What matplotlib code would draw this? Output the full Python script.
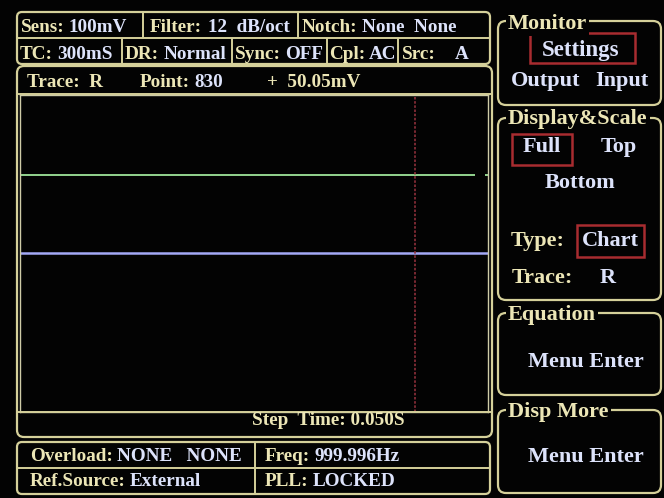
import matplotlib
matplotlib.use("Agg")
import matplotlib.pyplot as plt
from matplotlib.patches import FancyBboxPatch, Rectangle

# ---------------- data ----------------
x_range = [0, 983]            # chart points shown across the screen
y_range = [0.0, 100.0]        # mV, full scale = Sens
blue_level = 50.05            # trace R (mV)
green_level = 74.8            # second trace level (mV)
green_segments = [[0, 956], [977, 983]]
cursor_point = 830

status_row1 = [("Sens:", "100mV"), ("Filter:", "12  dB/oct"), ("Notch:", "None  None")]
status_row2 = [("TC:", "300mS"), ("DR:", "Normal"), ("Sync:", "OFF"), ("Cpl:", "AC"), ("Src:", "A")]
trace_header = [("Trace:  R", ""), ("Point:", "830"), ("+  50.05mV", "")]
step_time = "Step  Time: 0.050S"
bottom_row1 = [("Overload:", "NONE   NONE"), ("Freq:", "999.996Hz")]
bottom_row2 = [("Ref.Source:", "External"), ("PLL:", "LOCKED")]

# ---------------- style ----------------
BG = "#030303"
CREAM = "#ece6b6"
VAL = "#dde3fb"
BORDER = "#d5d09a"
RED = "#a82c30"
FONT = "Liberation Serif"
LS = 13.8   # left panel text size
RS = 16     # right panel text size

W, H = 664, 498
fig = plt.figure(figsize=(W / 100, H / 100), dpi=100, facecolor=BG)

# chart axes (pixel rect 20..488 x 95..412)
px0, px1, py0, py1 = 20, 488, 95, 412
ax = fig.add_axes([px0 / W, 1 - py1 / H, (px1 - px0) / W, (py1 - py0) / H], zorder=1)
ax.set_facecolor(BG)
ax.set_xlim(*x_range)
ax.set_ylim(*y_range)
ax.set_xticks([])
ax.set_yticks([])
for s in ax.spines.values():
    s.set_color("#cfcca8")
    s.set_linewidth(1.0)
for seg in green_segments:
    ax.plot(seg, [green_level, green_level], color="#93d48f", lw=1.4, solid_capstyle="butt")
ax.plot(x_range, [blue_level, blue_level], color="#a4a9f6", lw=1.8, solid_capstyle="butt")
ax.axvline(cursor_point, color="#8e2f3a", lw=1.2, ls=(0, (1.5, 1.0)))

# UI overlay in pixel coordinates
ui = fig.add_axes([0, 0, 1, 1], zorder=2)
ui.set_xlim(0, W)
ui.set_ylim(H, 0)
ui.axis("off")
ui.patch.set_alpha(0)
renderer = fig.canvas.get_renderer()


def rbox(x0, y0, x1, y1, r=6, lw=1.6, color=BORDER):
    ui.add_patch(FancyBboxPatch((x0, y0), x1 - x0, y1 - y0,
                                boxstyle=f"round,pad=0,rounding_size={r}",
                                fill=False, ec=color, lw=lw))


def line(xs, ys, lw=1.4, color=BORDER):
    ui.plot(xs, ys, color=color, lw=lw, solid_capstyle="butt")


def txt(x, y, s, color=CREAM, size=LS, **kw):
    return ui.text(x, y, s, color=color, fontsize=size, family=FONT, weight="bold",
                   va="baseline", ha=kw.pop("ha", "left"), **kw)


def pair(lx, vx, y, lab, val, size=LS):
    """label in cream followed by value in pale blue, never overlapping"""
    t = txt(lx, y, lab, size=size)
    right = t.get_window_extent(renderer).x1  # display px, same as ui x units
    txt(max(vx, right + 4), y, val, color=VAL, size=size)


def redbox(x0, y0, x1, y1):
    ui.add_patch(Rectangle((x0, y0), x1 - x0, y1 - y0, fill=False, ec=RED, lw=1.8))


# ---- top status box ----
rbox(17, 12, 490, 64, r=5)
line([17, 490], [38, 38])
for xv in (143, 298):
    line([xv, xv], [12, 38])
for xv in (122, 232, 327, 398):
    line([xv, xv], [38, 64])

r1_lx = [21, 150, 302]
r1_vx = [67, 208, 358]
for (lab, val), lx, vx in zip(status_row1, r1_lx, r1_vx):
    pair(lx, vx, 32, lab, val)
r2_lx = [20, 125, 235, 329, 402]
r2_vx = [48, 157, 279, 364, 455]
for (lab, val), lx, vx in zip(status_row2, r2_lx, r2_vx):
    pair(lx, vx, 59, lab, val)

# ---- trace box ----
rbox(17, 66, 492, 437, r=7)
line([17, 492], [94, 94])
line([17, 492], [412, 412])
txt(27, 87, trace_header[0][0])
pair(140, 185, 87, trace_header[1][0], trace_header[1][1])
txt(267, 87, trace_header[2][0])
txt(252, 425, step_time)

# ---- bottom info box ----
rbox(17, 442, 490, 494, r=5)
line([17, 490], [468, 468])
line([255, 255], [442, 494])
b_lx = [30, 265]
b1_vx = [115, 310]
b2_vx = [130, 310]
for (lab, val), lx, vx in zip(bottom_row1, b_lx, b1_vx):
    pair(lx, vx, 461, lab, val)
for (lab, val), lx, vx in zip(bottom_row2, b_lx, b2_vx):
    pair(lx, vx, 486, lab, val)

# ---- right panels ----
panels = [("Monitor", 21, 105, 29), ("Display&Scale", 118, 300, 124),
          ("Equation", 313, 395, 320), ("Disp More", 410, 493, 417)]
for title, y0, y1, base in panels:
    rbox(498, y0, 661, y1, r=8)
    ui.text(508, base, title, color=CREAM, fontsize=RS, family=FONT, weight="bold",
            va="baseline", ha="left",
            bbox=dict(facecolor=BG, edgecolor="none", pad=1.5))

redbox(530, 33, 635, 63)
txt(581, 56, "Settings", color=VAL, size=RS + 0.5, ha="center")
txt(511, 86, "Output", color=VAL, size=RS)
txt(595, 86, "Input", color=VAL, size=RS)

redbox(512, 134, 572, 165)
txt(542, 152, "Full", color=VAL, size=RS, ha="center")
txt(601, 152, "Top", color=VAL, size=RS)
txt(580, 188, "Bottom", color=VAL, size=RS, ha="center")
txt(511, 246, "Type:", size=RS)
redbox(577, 225, 644, 257)
txt(610, 246, "Chart", color=VAL, size=RS, ha="center")
txt(512, 283, "Trace:", size=RS)
txt(600, 283, "R", color=VAL, size=RS)

txt(586, 367, "Menu Enter", color=VAL, size=RS, ha="center")
txt(586, 462, "Menu Enter", color=VAL, size=RS, ha="center")

fig.savefig("out.png", dpi=100, facecolor=BG)
